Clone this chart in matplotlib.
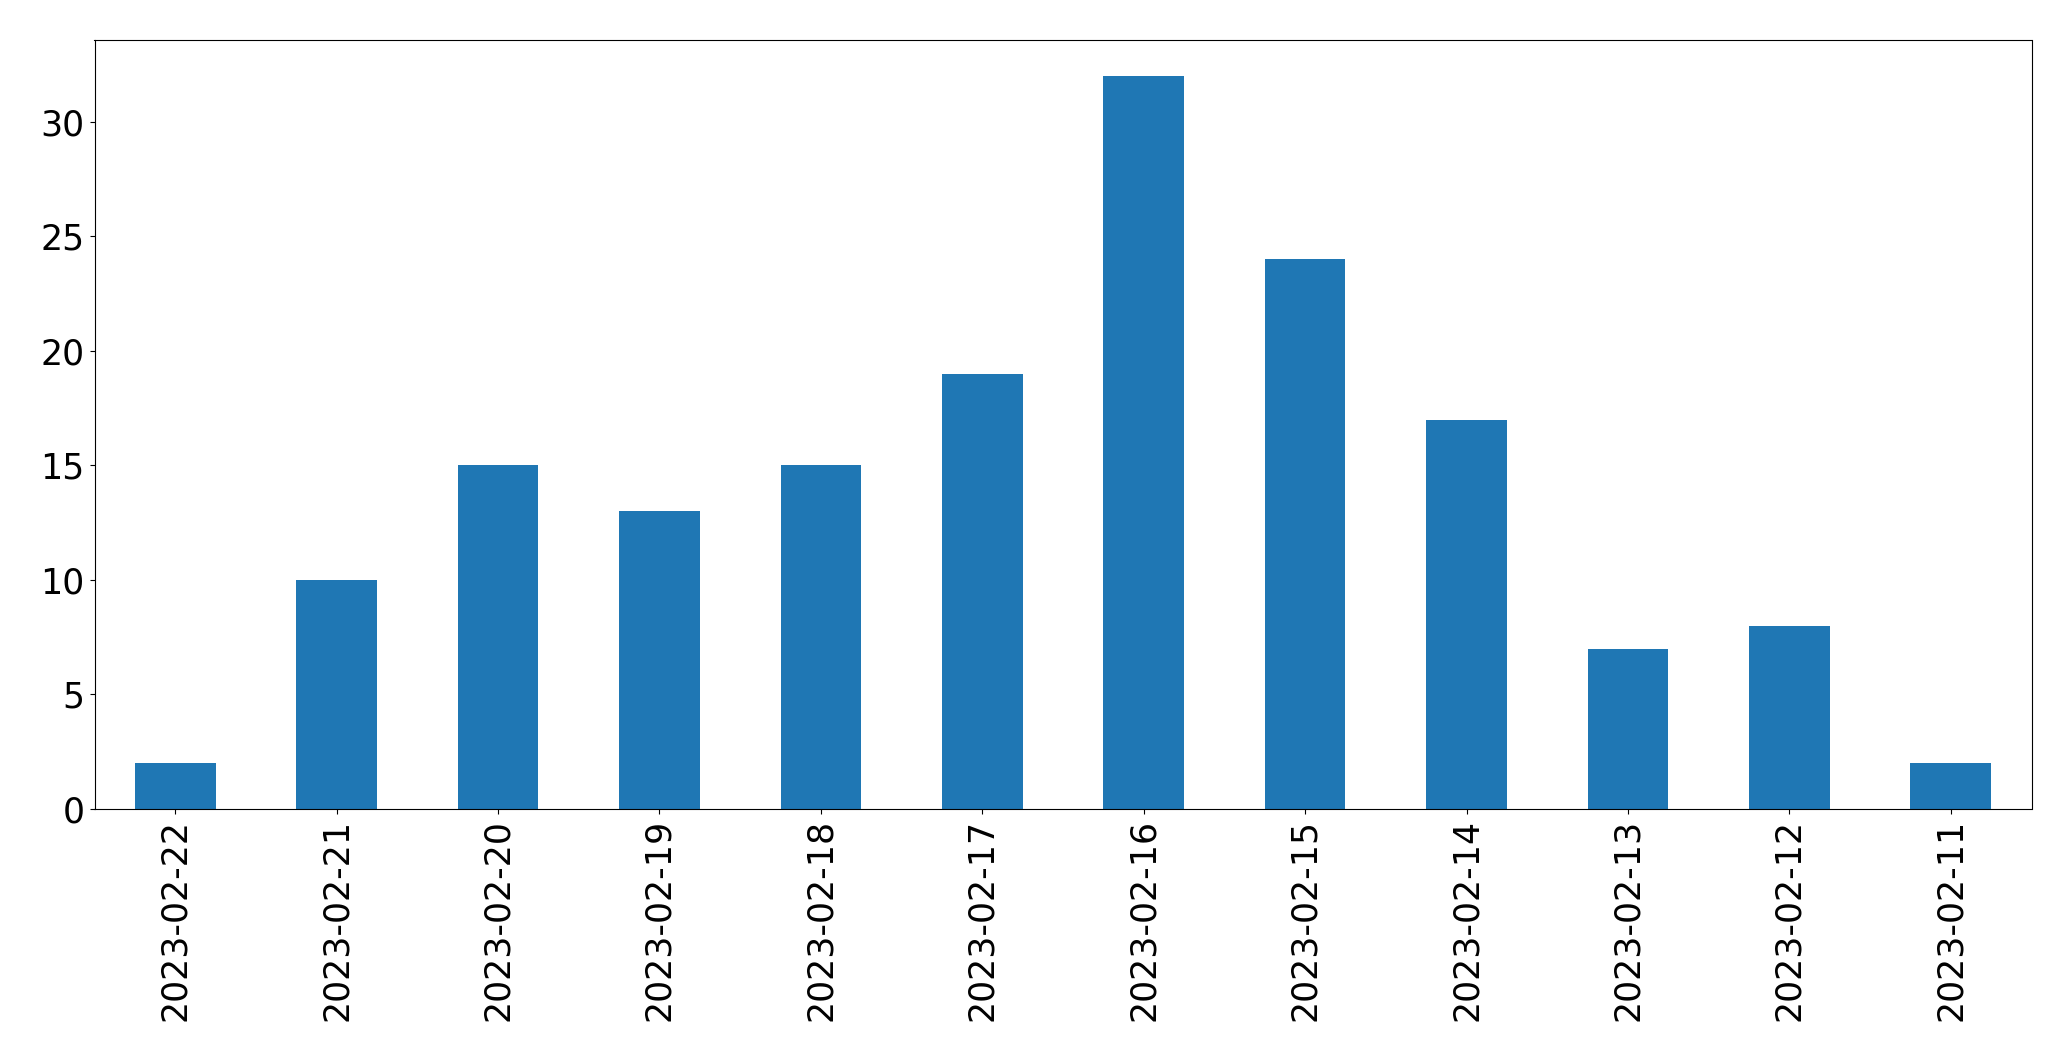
import matplotlib
matplotlib.use("Agg")
import matplotlib.pyplot as plt
import numpy as np

dates = ['2023-02-22', '2023-02-21', '2023-02-20', '2023-02-19', '2023-02-18', '2023-02-17',
         '2023-02-16', '2023-02-15', '2023-02-14', '2023-02-13', '2023-02-12', '2023-02-11']
counts = [2, 10, 15, 13, 15, 19, 32, 24, 17, 7, 8, 2]

fig = plt.figure(figsize=(20.71, 10.61), dpi=100)
ax = fig.add_axes([94.5 / 2071, 1 - 809 / 1061, (2031.5 - 94.5) / 2071, (809 - 39.5) / 1061])

x = np.arange(len(dates))
ax.bar(x, counts, width=0.5, color='#1f77b4')
ax.set_xlim(-0.5, len(dates) - 0.5)
ax.set_ylim(0, max(counts) * 1.05)
ax.set_xticks(x)
ax.set_xticklabels(dates, rotation=90)
ax.tick_params(labelsize=25)

fig.savefig('out.png', dpi=100)
